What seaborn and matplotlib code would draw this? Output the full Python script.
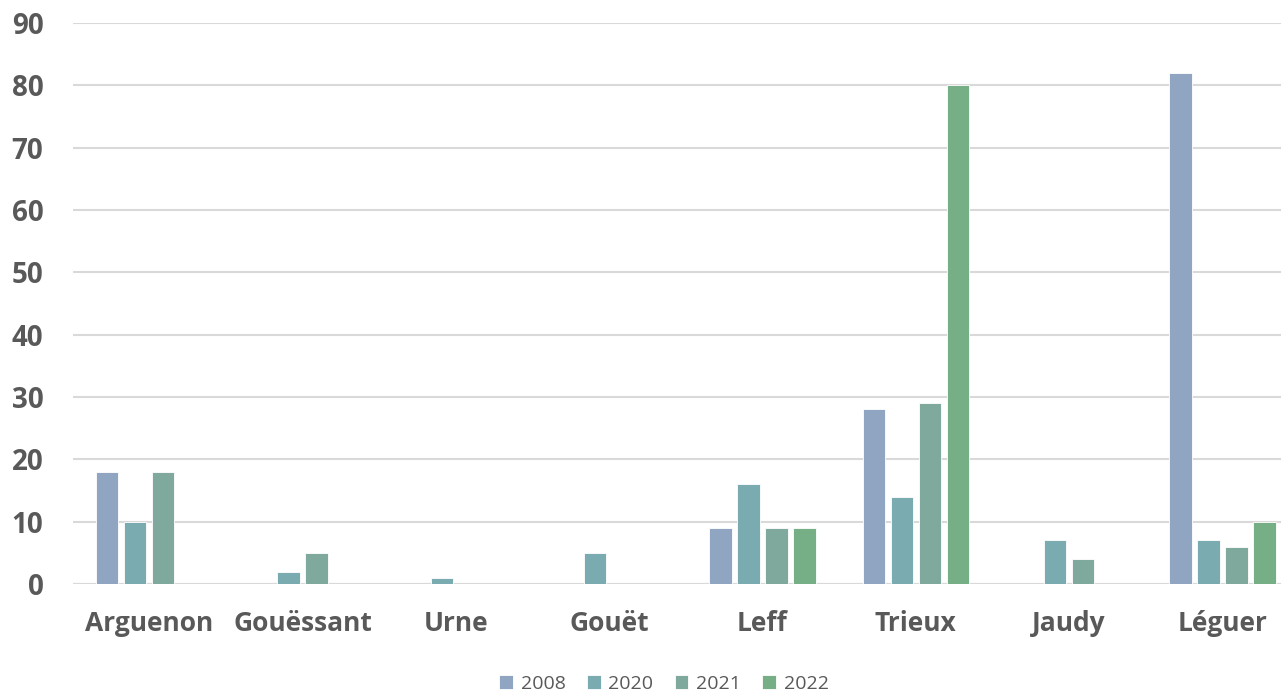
import numpy as np
import pandas as pd
import matplotlib
import matplotlib.pyplot as plt
import seaborn as sns

matplotlib.use("Agg")

rivers = ["Arguenon", "Gouëssant", "Urne", "Gouët", "Leff", "Trieux", "Jaudy", "Léguer"]
years = ["2008", "2020", "2021", "2022"]
v2008 = [18, np.nan, np.nan, np.nan, 9, 28, np.nan, 82]
v2020 = [10, 2, 1, 5, 16, 14, 7, 7]
v2021 = [18, 5, np.nan, np.nan, 9, 29, 4, 6]
v2022 = [np.nan, np.nan, np.nan, np.nan, 9, 80, np.nan, 10]
colors = ["#8FA5C2", "#7AABB1", "#80A99D", "#76AF86"]

rows = []
for year, vals in zip(years, [v2008, v2020, v2021, v2022]):
    for river, v in zip(rivers, vals):
        rows.append({"river": river, "year": year, "value": v})
df = pd.DataFrame(rows)

sns.set_theme(style="white")
plt.rcParams["font.family"] = ["Open Sans", "DejaVu Sans"]

fig = plt.figure(figsize=(12.81, 6.92), dpi=100)
ax = fig.add_axes([72.6 / 1281, 108 / 692, 1226.4 / 1281, 561 / 692])

sns.barplot(data=df, x="river", y="value", hue="year", order=rivers, hue_order=years,
            palette=colors, saturation=1, width=0.73, gap=0.2, ax=ax, dodge=True,
            edgecolor="white", linewidth=0.6)

ax.set_ylim(0, 90)
ax.set_xlim(-0.5, 7.5)
ax.set_yticks(range(0, 91, 10))
ax.yaxis.grid(True, color="#D9D9D9", linewidth=1.5)
ax.set_axisbelow(True)
sns.despine(ax=ax, left=True, bottom=True, top=True, right=True)
ax.axhline(0, color="#D9D9D9", linewidth=1.5, zorder=0)
ax.set_xlabel("")
ax.set_ylabel("")
ax.tick_params(axis="y", length=0, pad=21, labelsize=20, labelcolor="#595959")
ax.tick_params(axis="x", length=0, pad=19, labelsize=19, labelcolor="#595959")
for lbl in ax.get_xticklabels() + ax.get_yticklabels():
    lbl.set_fontweight("bold")

ax.legend(loc="center", bbox_to_anchor=(664 / 1281, 8 / 692), bbox_transform=fig.transFigure,
          ncol=4, frameon=False, fontsize=14, labelcolor="#595959",
          handlelength=0.7, handleheight=0.7, handletextpad=0.4, columnspacing=1.1)

fig.savefig("out.png", dpi=100)
